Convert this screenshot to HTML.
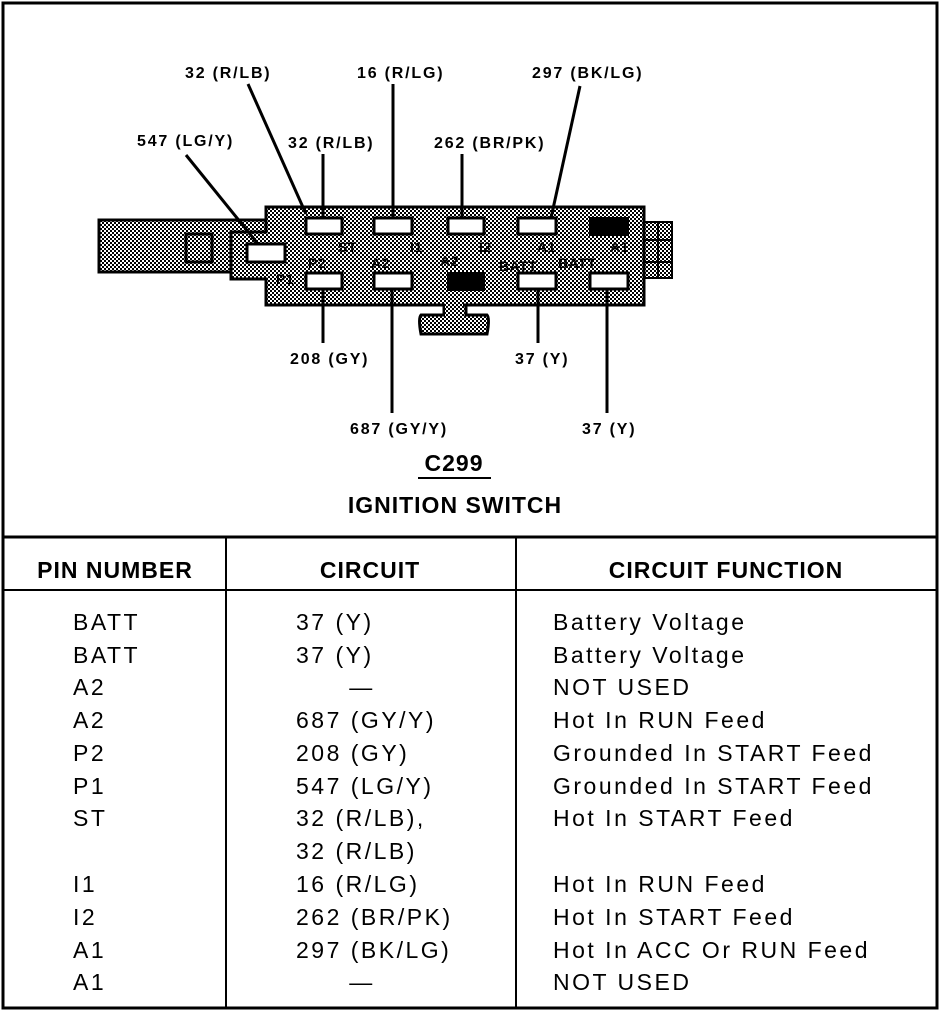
<!DOCTYPE html>
<html><head><style>
body{margin:0;background:#fff;}
svg{display:block}
text{font-family:"Liberation Sans",Arial,sans-serif;fill:#000}
.l{font-size:16px;font-weight:bold;letter-spacing:1.8px}
.p{font-size:14px;font-weight:bold;letter-spacing:0.5px}
.t{font-size:23px;letter-spacing:2.5px}
.h{font-size:23px;font-weight:bold;letter-spacing:1px}
</style></head><body>
<svg width="944" height="1012" viewBox="0 0 944 1012" xmlns="http://www.w3.org/2000/svg">
<defs>
<pattern id="dots" width="4" height="4" patternUnits="userSpaceOnUse">
<rect width="4" height="4" fill="#fff"/>
<rect x="0" y="0" width="2" height="2" fill="#000"/>
<rect x="2" y="2" width="2" height="2" fill="#000"/>
</pattern>
</defs>
<rect x="3" y="3" width="934" height="1005" fill="none" stroke="#000" stroke-width="3"/>
<line x1="3" y1="537" x2="937" y2="537" stroke="#000" stroke-width="3"/>
<line x1="3" y1="590" x2="937" y2="590" stroke="#000" stroke-width="2"/>
<line x1="226" y1="537" x2="226" y2="1008" stroke="#000" stroke-width="2"/>
<line x1="516" y1="537" x2="516" y2="1008" stroke="#000" stroke-width="2"/>

<rect x="99" y="220" width="170" height="52" fill="url(#dots)" stroke="#000" stroke-width="3"/>
<rect x="186" y="234" width="26" height="28" fill="none" stroke="#000" stroke-width="3"/>
<rect x="644" y="222" width="28" height="56" fill="url(#dots)" stroke="#000" stroke-width="2"/>
<line x1="658" y1="222" x2="658" y2="278" stroke="#000" stroke-width="2"/>
<line x1="644" y1="240" x2="672" y2="240" stroke="#000" stroke-width="2"/>
<line x1="644" y1="262" x2="672" y2="262" stroke="#000" stroke-width="2"/>
<path d="M421 315 L444 315 L444 300 L466 300 L466 315 L487 315 Q490 318 487 334 L421 334 Q418 318 421 315 Z" fill="url(#dots)" stroke="#000" stroke-width="3"/>
<path d="M266 207 L644 207 L644 305 L266 305 L266 279 L231 279 L231 232 L266 232 Z" fill="url(#dots)" stroke="#000" stroke-width="3"/>
<rect x="445" y="303" width="18" height="14" fill="url(#dots)"/>
<g fill="#fff" stroke="#000" stroke-width="3">
<rect x="306" y="218" width="36" height="16"/>
<rect x="374" y="218" width="38" height="16"/>
<rect x="448" y="218" width="36" height="16"/>
<rect x="518" y="218" width="38" height="16"/>
<rect x="247" y="244" width="38" height="18"/>
<rect x="306" y="273" width="36" height="16"/>
<rect x="374" y="273" width="38" height="16"/>
<rect x="518" y="273" width="38" height="16"/>
<rect x="590" y="273" width="38" height="16"/>
</g>
<rect x="589" y="217" width="40" height="19" fill="#000"/>
<rect x="447" y="272" width="38" height="19" fill="#000"/>
<g class="p">
<text x="338" y="252">ST</text><text x="410" y="252">I1</text><text x="479" y="252">I2</text>
<text x="537" y="252">A1</text><text x="610" y="252">A1</text>
<text x="308" y="268">P2</text><text x="371" y="268">A2</text><text x="440" y="266">A2</text>
<text x="499" y="271">BATT</text><text x="558" y="268">BATT</text>
<text x="276" y="284">P1</text>
</g>

<g stroke="#000" stroke-width="3">
<line x1="186" y1="155" x2="258" y2="244"/>
<line x1="248" y1="84" x2="306" y2="214"/>
<line x1="323" y1="154" x2="323" y2="218"/>
<line x1="393" y1="84" x2="393" y2="218"/>
<line x1="462" y1="154" x2="462" y2="218"/>
<line x1="580" y1="86" x2="551" y2="218"/>
<line x1="323" y1="289" x2="323" y2="343"/>
<line x1="392" y1="289" x2="392" y2="413"/>
<line x1="538" y1="289" x2="538" y2="343"/>
<line x1="607" y1="289" x2="607" y2="413"/>
</g>
<g class="l">
<text x="185" y="78">32 (R/LB)</text>
<text x="357" y="78">16 (R/LG)</text>
<text x="532" y="78">297 (BK/LG)</text>
<text x="137" y="146">547 (LG/Y)</text>
<text x="288" y="148">32 (R/LB)</text>
<text x="434" y="148">262 (BR/PK)</text>
<text x="290" y="364">208 (GY)</text>
<text x="515" y="364">37 (Y)</text>
<text x="350" y="434">687 (GY/Y)</text>
<text x="582" y="434">37 (Y)</text>
</g>
<text x="454" y="471" text-anchor="middle" class="h" font-size="22">C299</text>
<line x1="418" y1="478" x2="491" y2="478" stroke="#000" stroke-width="2"/>
<text x="455" y="513" text-anchor="middle" class="h" font-size="22">IGNITION SWITCH</text>

<text x="115" y="578" text-anchor="middle" class="h">PIN NUMBER</text>
<text x="370" y="578" text-anchor="middle" class="h">CIRCUIT</text>
<text x="726" y="578" text-anchor="middle" class="h">CIRCUIT FUNCTION</text>

<g class="t">
<text x="73" y="630">BATT</text><text x="296" y="630">37 (Y)</text><text x="553" y="630">Battery Voltage</text>
<text x="73" y="663">BATT</text><text x="296" y="663">37 (Y)</text><text x="553" y="663">Battery Voltage</text>
<text x="73" y="695">A2</text><text x="362" y="695" text-anchor="middle">—</text><text x="553" y="695">NOT USED</text>
<text x="73" y="728">A2</text><text x="296" y="728">687 (GY/Y)</text><text x="553" y="728">Hot In RUN Feed</text>
<text x="73" y="761">P2</text><text x="296" y="761">208 (GY)</text><text x="553" y="761">Grounded In START Feed</text>
<text x="73" y="794">P1</text><text x="296" y="794">547 (LG/Y)</text><text x="553" y="794">Grounded In START Feed</text>
<text x="73" y="826">ST</text><text x="296" y="826">32 (R/LB),</text><text x="553" y="826">Hot In START Feed</text>
<text x="296" y="859">32 (R/LB)</text>
<text x="73" y="892">I1</text><text x="296" y="892">16 (R/LG)</text><text x="553" y="892">Hot In RUN Feed</text>
<text x="73" y="925">I2</text><text x="296" y="925">262 (BR/PK)</text><text x="553" y="925">Hot In START Feed</text>
<text x="73" y="958">A1</text><text x="296" y="958">297 (BK/LG)</text><text x="553" y="958">Hot In ACC Or RUN Feed</text>
<text x="73" y="990">A1</text><text x="362" y="990" text-anchor="middle">—</text><text x="553" y="990">NOT USED</text>
</g>
</svg>
</body></html>
